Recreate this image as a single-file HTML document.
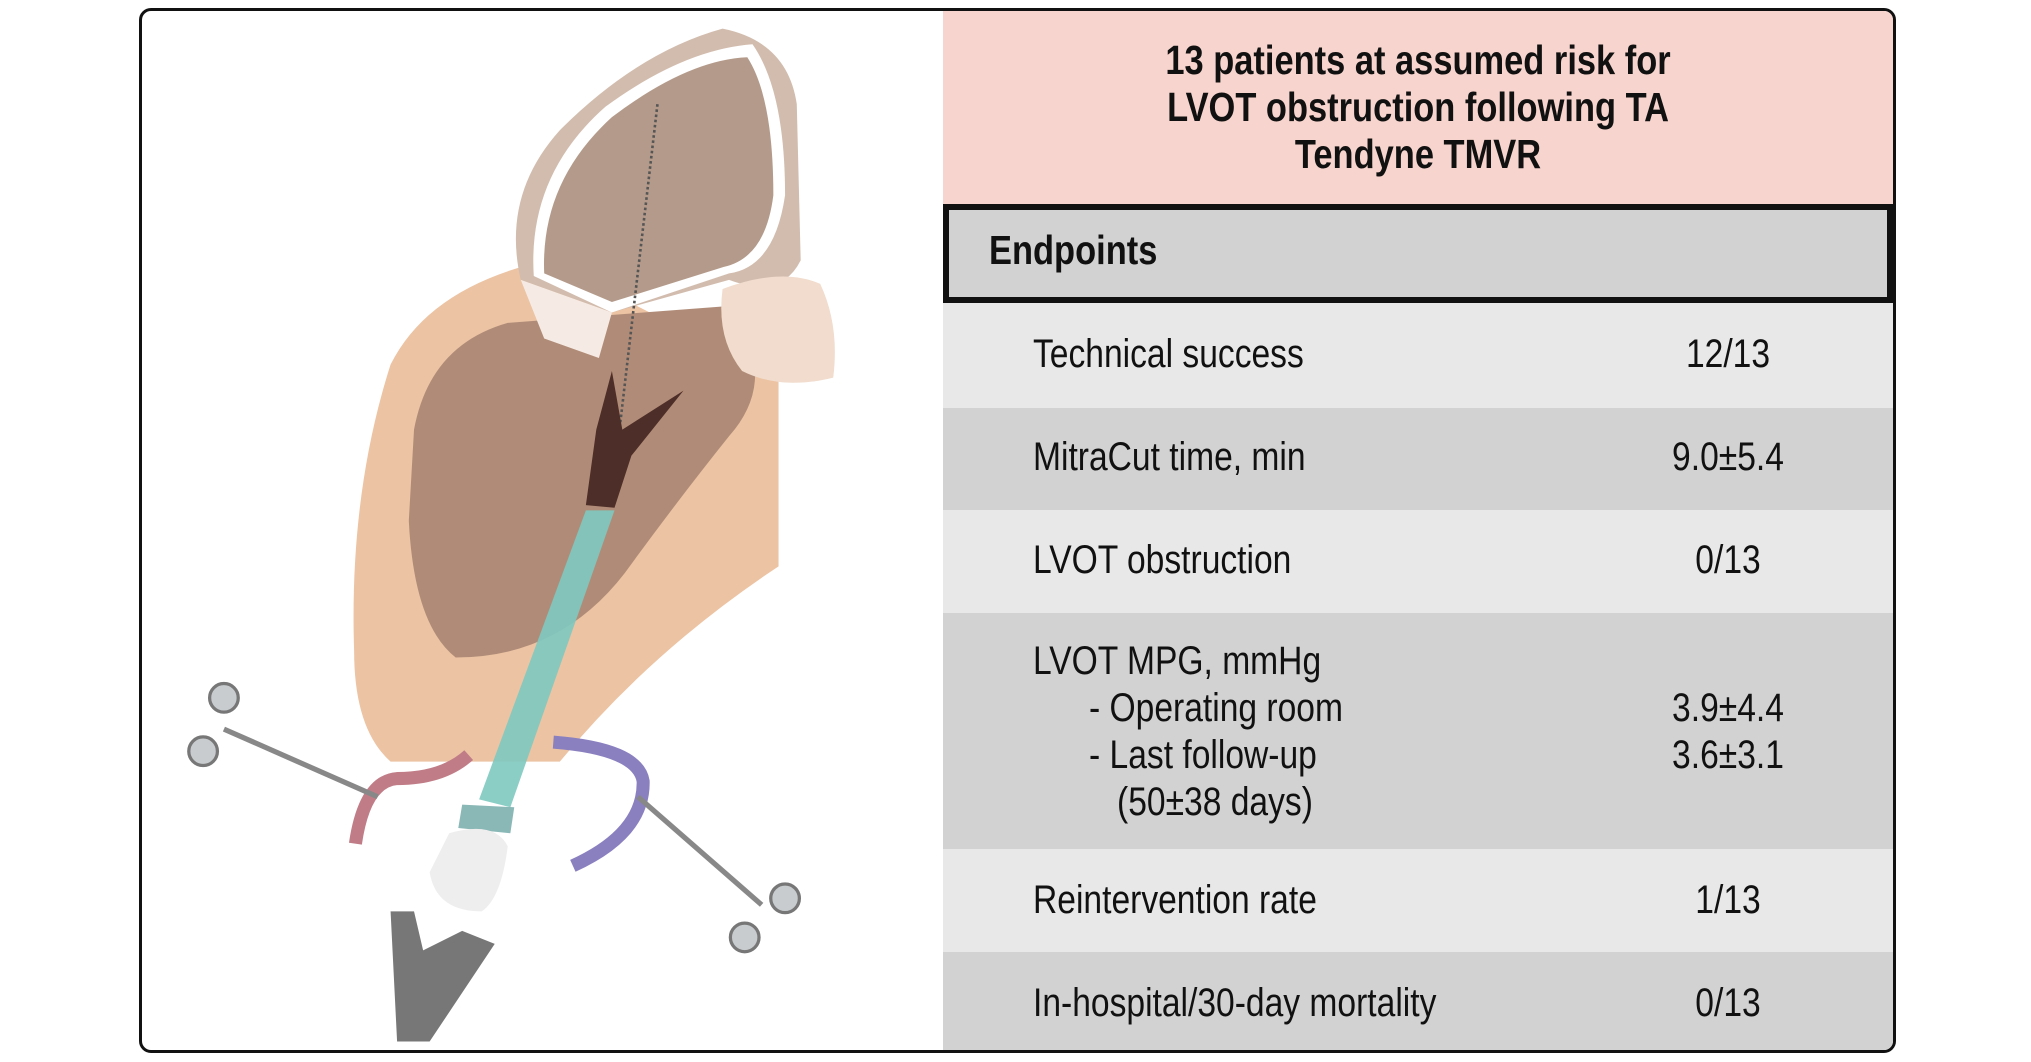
<!DOCTYPE html>
<html><head><meta charset="utf-8"><style>
body{margin:0;width:2031px;height:1062px;background:#fff;position:relative;overflow:hidden;font-family:"Liberation Sans",sans-serif}
.box{position:absolute;left:139px;top:8px;width:1751px;height:1039px;border:3px solid #111;border-radius:12px;overflow:hidden;background:#fff}
.r{position:absolute;left:801px;width:950px;box-sizing:border-box}
.t{position:absolute;font-size:40px;color:#111;line-height:47px;white-space:nowrap;transform:scaleX(.84);transform-origin:left top}
.v{position:absolute;left:1486px;width:200px;text-align:center;font-size:40px;color:#111;line-height:47px;transform:scaleX(.84);transform-origin:center top}
svg{position:absolute;left:0;top:0}
</style></head><body>
<div class="box">
<div class="r" style="top:0;height:193px;background:#f7d4cd"></div>
<div class="t" style="left:801px;width:1131px;top:26px;text-align:center;font-weight:bold;font-size:41px">13 patients at assumed risk for<br>LVOT obstruction following TA<br>Tendyne TMVR</div>
<div class="r" style="top:193px;height:99px;background:#d2d2d2;border:6px solid #111"></div>
<div class="t" style="left:847px;top:216px;font-weight:bold;font-size:41px">Endpoints</div>
<div class="r" style="top:292px;height:105px;background:#e8e8e8"></div>
<div class="r" style="top:397px;height:102px;background:#d2d2d2"></div>
<div class="r" style="top:499px;height:103px;background:#e8e8e8"></div>
<div class="r" style="top:602px;height:236px;background:#d2d2d2"></div>
<div class="r" style="top:838px;height:103px;background:#e8e8e8"></div>
<div class="r" style="top:941px;height:103px;background:#d2d2d2"></div>
<div class="t" style="left:891px;top:320px">Technical success</div><div class="v" style="top:320px">12/13</div>
<div class="t" style="left:891px;top:423px">MitraCut time, min</div><div class="v" style="top:423px">9.0±5.4</div>
<div class="t" style="left:891px;top:526px">LVOT obstruction</div><div class="v" style="top:526px">0/13</div>
<div class="t" style="left:891px;top:627px">LVOT MPG, mmHg<br>&nbsp;&nbsp;&nbsp;&nbsp;&nbsp;&nbsp;- Operating room<br>&nbsp;&nbsp;&nbsp;&nbsp;&nbsp;&nbsp;- Last follow-up<br>&nbsp;&nbsp;&nbsp;&nbsp;&nbsp;&nbsp;&nbsp;&nbsp;&nbsp;(50±38 days)</div>
<div class="v" style="top:674px">3.9±4.4<br>3.6±3.1</div>
<div class="t" style="left:891px;top:866px">Reintervention rate</div><div class="v" style="top:866px">1/13</div>
<div class="t" style="left:891px;top:969px">In-hospital/30-day mortality</div><div class="v" style="top:969px">0/13</div>
</div>
<svg width="2031" height="1062" viewBox="0 0 1560 815.7">
<path d="M300 280 Q330 220 420 200 L598 290 L598 435 Q500 500 430 585 L300 585 Q272 560 272 500 Q268 380 300 280Z" fill="#ecc3a3"/>
<path d="M318 330 Q330 265 390 248 L560 235 Q600 290 560 335 Q520 385 480 440 Q430 505 350 505 Q318 480 314 400Z" fill="#b08c78"/>
<path d="M400 215 Q385 150 430 100 Q490 40 555 22 Q605 32 612 80 L615 200 Q600 230 560 215 L470 240Z" fill="#d2bcae"/>
<path d="M410 212 Q405 135 465 82 Q525 38 578 34 Q603 70 603 150 Q595 205 560 210 L470 240Z" fill="#fff"/>
<path d="M418 210 Q415 140 470 90 Q528 46 574 44 Q594 75 594 150 Q588 198 556 205 L470 232Z" fill="#b49a8a"/>
<path d="M400 215 L470 240 L460 275 L418 260Z" fill="#f6ebe4"/>
<path d="M555 222 Q600 205 630 218 Q645 250 640 290 Q600 300 570 285 Q550 260 555 222Z" fill="#f1dccd"/>
<line x1="505" y1="80" x2="470" y2="380" stroke="#555" stroke-width="2" stroke-dasharray="2 2"/>
<path d="M450 388 L458 330 L470 285 L478 330 L525 300 L485 350 L472 390Z" fill="#4e2e28"/>
<path d="M450 392 L472 392 L392 620 L368 614Z" fill="#7ec9c0" opacity=".9"/>
<path d="M355 618 L395 620 L392 640 L352 636Z" fill="#8ab8b6"/>
<path d="M345 640 Q380 630 390 650 Q385 690 370 700 Q335 700 330 670Z" fill="#eeeeee"/>
<path d="M300 700 L318 700 L325 730 L355 715 L380 725 L330 800 L305 800Z" fill="#777"/>
<path d="M273 648 Q280 600 305 598 Q340 598 360 580" stroke="#c07d87" stroke-width="10" fill="none"/>
<path d="M425 570 Q490 575 494 600 Q495 640 440 665" stroke="#8a80c0" stroke-width="10" fill="none"/>
<line x1="172" y1="560" x2="290" y2="612" stroke="#888" stroke-width="4"/>
<circle cx="172" cy="536" r="11" fill="#c8ccce" stroke="#777" stroke-width="2.5"/>
<circle cx="156" cy="577" r="11" fill="#c8ccce" stroke="#777" stroke-width="2.5"/>
<line x1="490" y1="612" x2="585" y2="695" stroke="#888" stroke-width="4"/>
<circle cx="603" cy="690" r="11" fill="#c8ccce" stroke="#777" stroke-width="2.5"/>
<circle cx="572" cy="720" r="11" fill="#c8ccce" stroke="#777" stroke-width="2.5"/>
</svg>
</body></html>
